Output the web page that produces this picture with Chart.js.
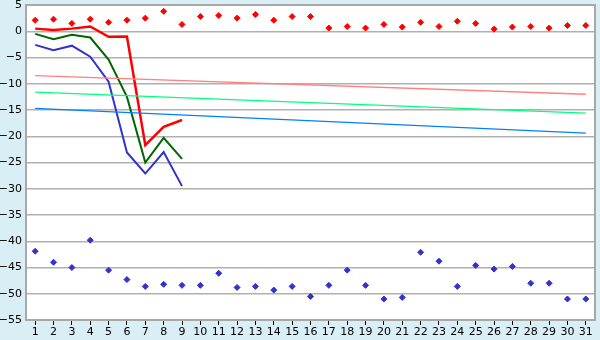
<!DOCTYPE html>
<html>
<head>
<meta charset="utf-8">
<script src="https://cdn.jsdelivr.net/npm/chart.js@4/dist/chart.umd.min.js"></script>
<style>
  html, body { margin: 0; padding: 0; background: #d9eff5; }
  #wrap { width: 600px; height: 340px; }
</style>
</head>
<body>
<div id="wrap"><canvas id="chart" width="600" height="340"></canvas></div>
<script>
const days = Array.from({ length: 31 }, (_, i) => String(i + 1));

// daily extremes
const maxPoints = [2.1, 2.3, 1.5, 2.3, 1.7, 2.1, 2.5, 3.8, 1.3, 2.8, 3.0, 2.5, 3.2, 2.1, 2.8, 2.8,
  0.6, 0.9, 0.6, 1.3, 0.8, 1.7, 0.9, 1.9, 1.5, 0.4, 0.8, 0.9, 0.6, 1.1, 1.1];
const minPoints = [-41.9, -44.0, -45.0, -39.8, -45.5, -47.3, -48.6, -48.2, -48.4, -48.4, -46.1, -48.8,
  -48.6, -49.3, -48.6, -50.5, -48.4, -45.5, -48.4, -51.0, -50.7, -42.1, -43.8, -48.6, -44.6, -45.3,
  -44.8, -48.0, -48.0, -51.0, -51.0];

// observed lines (first 9 days)
const redLine = [0.5, 0.25, 0.5, 0.9, -1.05, -1.0, -21.7, -18.2, -16.9];
const greenLine = [-0.5, -1.5, -0.65, -1.2, -5.4, -12.5, -25.0, -20.3, -24.3];
const blueLine = [-2.6, -3.6, -2.75, -4.85, -9.6, -23.1, -27.1, -23.0, -29.5];

// trend lines: [day 1, day 31]
const pinkTrend = [-8.45, -12.0];
const greenTrend = [-11.6, -15.6];
const blueTrend = [-14.7, -19.4];

const yTicks = { min: -55, max: 5, step: 5 };

function trend(ends) {
  return days.map((d, i) => i === 0 ? ends[0] : (i === days.length - 1 ? ends[1] : null));
}

const plotBg = {
  id: 'plotBg',
  beforeDraw(chart) {
    const { ctx, chartArea: a } = chart;
    ctx.save();
    ctx.fillStyle = '#ffffff';
    ctx.fillRect(a.left, a.top, a.right - a.left, a.bottom - a.top);
    ctx.restore();
  },
  afterDraw(chart) {
    const { ctx, chartArea: a } = chart;
    ctx.save();
    ctx.strokeStyle = '#a8a8a8';
    ctx.lineWidth = 2;
    ctx.strokeRect(a.left, a.top, a.right - a.left, a.bottom - a.top);
    ctx.restore();
  }
};

const lineDs = (data, color, width) => ({
  type: 'line', data, borderColor: color, backgroundColor: color,
  borderWidth: width, pointRadius: 0, fill: false, tension: 0, spanGaps: true
});
const pointDs = (data, color) => ({
  type: 'line', data, showLine: false, pointStyle: 'rectRot', pointRadius: 3,
  pointBorderWidth: 1, borderColor: color, backgroundColor: color
});

new Chart(document.getElementById('chart').getContext('2d'), {
  type: 'line',
  data: {
    labels: days,
    datasets: [
      lineDs(trend(pinkTrend), '#ff8080', 1.3),
      lineDs(trend(greenTrend), '#00ff80', 1.3),
      lineDs(trend(blueTrend), '#0080ff', 1.3),
      lineDs(blueLine, '#3333cc', 2),
      lineDs(greenLine, '#006600', 2),
      lineDs(redLine, '#ff0000', 2.5),
      pointDs(maxPoints, '#ff0000'),
      pointDs(minPoints, '#3333cc')
    ]
  },
  options: {
    responsive: false,
    animation: false,
    layout: { padding: { top: 5, right: 5, left: 0, bottom: 0 } },
    plugins: { legend: { display: false }, tooltip: { enabled: false } },
    scales: {
      x: {
        offset: true,
        grid: { offset: false, drawOnChartArea: false, drawTicks: true, tickLength: 5, color: '#000000' },
        border: { display: false },
        ticks: { color: '#000000', font: { family: 'DejaVu Sans', size: 11 }, padding: 1, maxRotation: 0, autoSkip: false },
        afterFit(s) { s.height = 20; s.paddingLeft = 0; s.paddingRight = 0; }
      },
      y: {
        min: yTicks.min, max: yTicks.max,
        grid: { color: '#b0b0b0', lineWidth: 1.5, drawTicks: false },
        border: { display: false },
        ticks: {
          stepSize: yTicks.step, color: '#000000', font: { family: 'DejaVu Sans', size: 11 }, padding: 4,
          callback: v => String(v).replace('-', '\u2212')
        },
        afterFit(s) { s.width = 26; s.paddingTop = 0; s.paddingBottom = 0; }
      }
    }
  },
  plugins: [plotBg]
});
</script>
</body>
</html>
